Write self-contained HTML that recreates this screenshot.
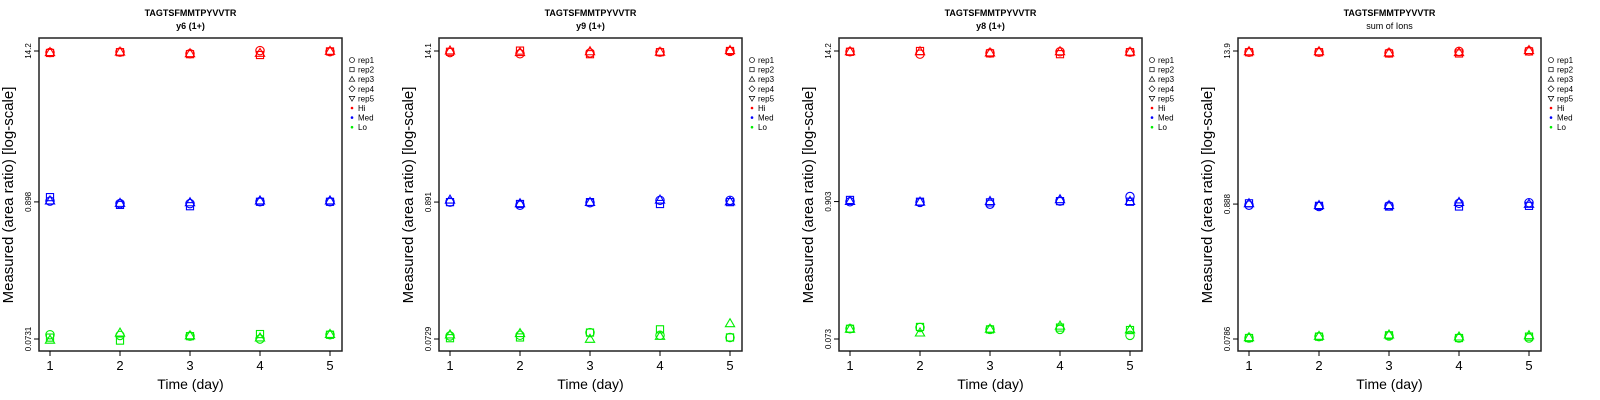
<!DOCTYPE html>
<html><head><meta charset="utf-8"><style>
html,body{margin:0;padding:0;background:#fff;}
svg{display:block;font-family:"Liberation Sans",sans-serif;}
</style></head><body>
<svg id="chart" width="1600" height="400" xmlns="http://www.w3.org/2000/svg"></svg>
<script>
const days = [1,2,3,4,5];
const reps = ["rep1","rep2","rep3","rep4","rep5"];
const panelTitles = ["y6 (1+)","y9 (1+)","y8 (1+)","sum of Ions"];
const peptide = "TAGTSFMMTPYVVTR";
const tickLabels = [["14.2","0.898","0.0731"],["14.1","0.891","0.0729"],["14.2","0.903","0.073"],["13.9","0.888","0.0786"]];
const tickValues = [[14.2,0.898,0.0731],[14.1,0.891,0.0729],[14.2,0.903,0.073],[13.9,0.888,0.0786]];
// values [panel][day][rep1..rep3]
const hiValues = [
 [[13.8,13.7,13.9],[13.9,13.9,14.0],[13.5,13.4,13.6],[14.3,13.2,13.7],[14.0,14.1,14.2]],
 [[13.7,13.9,14.2],[13.4,14.2,13.8],[13.6,13.3,14.0],[13.8,13.8,13.9],[14.0,14.1,14.3]],
 [[14.0,14.0,14.1],[13.4,14.2,14.1],[13.7,13.6,13.8],[14.0,13.4,14.1],[13.9,13.9,14.0]],
 [[13.6,13.6,13.8],[13.6,13.6,13.8],[13.4,13.3,13.5],[13.8,13.3,13.6],[13.9,13.8,14.1]]
];
const medValues = [
 [[0.91,0.98,0.92],[0.87,0.85,0.88],[0.87,0.83,0.89],[0.90,0.90,0.92],[0.90,0.90,0.92]],
 [[0.89,0.89,0.93],[0.84,0.86,0.87],[0.88,0.89,0.89],[0.92,0.86,0.93],[0.92,0.89,0.90]],
 [[0.90,0.93,0.91],[0.89,0.90,0.90],[0.86,0.89,0.91],[0.91,0.91,0.94],[0.99,0.90,0.91]],
 [[0.87,0.90,0.90],[0.85,0.86,0.87],[0.86,0.85,0.87],[0.90,0.85,0.92],[0.91,0.86,0.89]]
];
const loValues = [
 [[0.079,0.075,0.072],[0.078,0.071,0.082],[0.077,0.077,0.078],[0.073,0.080,0.075],[0.079,0.079,0.080]],
 [[0.077,0.074,0.079],[0.078,0.075,0.081],[0.082,0.082,0.073],[0.078,0.087,0.077],[0.075,0.075,0.097]],
 [[0.088,0.088,0.088],[0.090,0.091,0.082],[0.087,0.087,0.088],[0.087,0.090,0.093],[0.078,0.086,0.087]],
 [[0.080,0.080,0.081],[0.082,0.082,0.083],[0.083,0.084,0.085],[0.080,0.080,0.082],[0.080,0.082,0.084]]
];
const levels = ["Hi","Med","Lo"];
const levelColors = ["#ff0000","#0000ff","#00ee00"];
const panelOffsets = [0,400,800,1199];

const NS="http://www.w3.org/2000/svg";
const svg=document.getElementById('chart');
function mk(tag,attrs,parent){const e=document.createElementNS(NS,tag);for(const k in attrs)e.setAttribute(k,attrs[k]);(parent||svg).appendChild(e);return e;}
function shape(g,rep,x,y,color){
  const r=4.2;let e;
  if(rep===0){e=mk('circle',{cx:x,cy:y,r:r,fill:'none',stroke:color,'stroke-width':1.1},g);}
  else if(rep===1){e=mk('rect',{x:x-r*0.85,y:y-r*0.85,width:r*1.7,height:r*1.7,fill:'none',stroke:color,'stroke-width':1.1},g);}
  else if(rep===2){e=mk('polygon',{points:`${x},${y-r*1.1} ${x-r*1.1},${y+r*0.8} ${x+r*1.1},${y+r*0.8}`,fill:'none',stroke:color,'stroke-width':1.1},g);}
  else if(rep===3){e=mk('polygon',{points:`${x},${y-r*1.2} ${x+r*1.2},${y} ${x},${y+r*1.2} ${x-r*1.2},${y}`,fill:'none',stroke:color,'stroke-width':1.1},g);}
  else {e=mk('polygon',{points:`${x},${y+r*1.1} ${x-r*1.1},${y-r*0.8} ${x+r*1.1},${y-r*0.8}`,fill:'none',stroke:color,'stroke-width':1.1},g);}
  return e;
}
const allSeries=[hiValues,medValues,loValues];
panelOffsets.forEach((ox,p)=>{
  const g=mk('g',{});
  
  
  const L=ox+39,R=ox+342,T=38,B=351;
  const yTop=51,yBot=339;
  const lt=Math.log10(tickValues[p][0]),lb=Math.log10(tickValues[p][2]);
  const yScale=v=>yTop+(lt-Math.log10(v))/(lt-lb)*(yBot-yTop);
  const xScale=d=>ox+50+(d-1)*70;
  let t=mk('text',{x:(L+R)/2,y:16,'text-anchor':'middle','font-size':9,'font-weight':'bold'},g);t.textContent=peptide;
  
  t=mk('text',{x:(L+R)/2,y:29,'text-anchor':'middle','font-size':9,'font-weight':p===3?'normal':'bold'},g);t.textContent=panelTitles[p];
  
  const box=mk('rect',{x:L,y:T,width:R-L,height:B-T,fill:'none',stroke:'#222','stroke-width':1.5},g);
  
  tickValues[p].forEach((v,i)=>{
    const y=yScale(v);
    mk('line',{x1:L,x2:L-5,y1:y,y2:y,stroke:'#000'},g);
    const tl=mk('text',{x:0,y:0,transform:`translate(${L-8},${y}) rotate(-90)`,'text-anchor':'middle','font-size':8},g);
    tl.textContent=tickLabels[p][i];
    
  });
  days.forEach(d=>{
    const x=xScale(d);
    mk('line',{x1:x,x2:x,y1:B,y2:B+5,stroke:'#000'},g);
    const tl=mk('text',{x:x,y:370,'text-anchor':'middle','font-size':13},g);
    tl.textContent=d;
    
  });
  let at=mk('text',{x:(L+R)/2,y:389,'text-anchor':'middle','font-size':14},g);at.textContent="Time (day)";
  
  at=mk('text',{x:0,y:0,transform:`translate(${ox+13},${195}) rotate(-90)`,'text-anchor':'middle','font-size':15},g);
  at.textContent="Measured (area ratio) [log-scale]";
  
  allSeries.forEach((series,li)=>{
    series[p].forEach((dayVals,di)=>{
      dayVals.forEach((v,ri)=>{
        const e=shape(g,ri,xScale(days[di]),yScale(v),levelColors[li]);
        
        
      });
    });
  });
  const lg=mk('g',{},g);
  
  const lx=ox+352;
  reps.forEach((r,i)=>{
    const y=60+i*9.6;
    const sg=mk('g',{transform:`translate(${lx},${y}) scale(0.6) translate(${-lx},${-y})`},lg);
    shape(sg,i,lx,y,'#000');
    const tx=mk('text',{x:lx+6,y:y+3,'font-size':8},lg);tx.textContent=r;
    
  });
  levels.forEach((l,i)=>{
    const y=60+(5+i)*9.6;
    mk('circle',{cx:lx,cy:y,r:1.3,fill:levelColors[i]},lg);
    const tx=mk('text',{x:lx+6,y:y+3,'font-size':8},lg);tx.textContent=l;
    
  });
});
</script>
</body></html>
